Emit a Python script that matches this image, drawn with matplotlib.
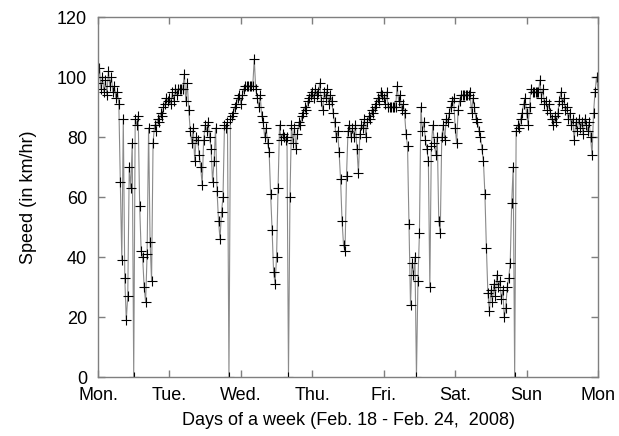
import numpy as np
import matplotlib
matplotlib.use("Agg")
import matplotlib.pyplot as plt

plt.rcParams['font.family'] = ['Liberation Sans', 'DejaVu Sans']

day_labels = ['Mon.', 'Tue.', 'Wed.', 'Thu.', 'Fri.', 'Sat.', 'Sun', 'Mon']

# speed readings (km/hr), 48 per day (every 30 min)
mon = [98, 103, 96, 100, 95, 99, 94, 102, 97, 100, 95, 97, 93, 95, 91, 65,
       39, 86, 33, 19, 27, 70, 63, 78, 0, 86, 84, 87, 57, 42, 40, 30,
       25, 41, 83, 45, 32, 78, 84, 82, 86, 85, 88, 87, 90, 91, 93, 92]
tue = [93, 91, 95, 92, 96, 94, 96, 96, 96, 96, 101, 92, 98, 89, 82, 78,
       83, 72, 80, 79, 74, 70, 64, 79, 84, 82, 85, 80, 76, 65, 72, 83,
       62, 52, 46, 55, 60, 84, 83, 85, 0, 86, 87, 88, 90, 91, 93, 94]
wed = [91, 94, 96, 97, 97, 97, 97, 97, 97, 106, 96, 93, 90, 94, 87, 85,
       80, 83, 78, 75, 61, 49, 35, 31, 40, 63, 84, 79, 81, 80, 79, 80,
       0, 60, 84, 78, 83, 76, 81, 85, 84, 87, 88, 90, 89, 92, 93, 94]
thu = [95, 93, 96, 94, 95, 98, 92, 89, 95, 93, 96, 91, 94, 92, 88, 85,
       80, 82, 75, 66, 52, 44, 42, 67, 82, 84, 80, 83, 80, 84, 76, 68,
       81, 84, 83, 86, 80, 85, 87, 86, 89, 88, 90, 91, 93, 92, 95, 94]
fri = [93, 91, 95, 90, 90, 90, 90, 90, 90, 97, 92, 94, 89, 91, 88, 81,
       77, 51, 24, 38, 34, 40, 0, 32, 48, 90, 82, 85, 79, 76, 72, 30,
       77, 84, 78, 74, 80, 52, 48, 80, 84, 79, 86, 85, 88, 90, 92, 93]
sat = [83, 78, 89, 92, 94, 94, 94, 94, 94, 94, 95, 88, 93, 90, 86, 85,
       82, 80, 76, 72, 61, 43, 28, 22, 29, 25, 31, 27, 34, 30, 32, 26,
       29, 20, 23, 30, 33, 38, 58, 70, 0, 82, 84, 83, 86, 88, 91, 93]
sun = [88, 84, 90, 96, 95, 95, 95, 95, 95, 99, 93, 96, 91, 92, 89, 91,
       88, 86, 84, 87, 85, 88, 92, 95, 91, 93, 89, 90, 86, 88, 84, 86,
       79, 85, 82, 86, 83, 85, 81, 86, 84, 82, 85, 80, 74, 88, 95, 100, 96]

speed = np.array(mon + tue + wed + thu + fri + sat + sun, dtype=float)
t = np.arange(len(speed)) / 48.0

fig = plt.figure(figsize=(6.19, 4.36), dpi=100)
ax = fig.add_axes([98/619, 1 - 377/436, 500/619, 360/436])

ax.plot(t, speed, color='#8a8a8a', lw=0.8, zorder=1)
ax.plot(t, speed, ls='none', marker='+', ms=7.5, mew=0.8, color='black', zorder=2)

ax.set_xlim(0, 7)
ax.set_ylim(0, 120)
ax.set_xticks(range(8))
ax.set_xticklabels(day_labels)
ax.set_yticks(range(0, 121, 20))

for s in ax.spines.values():
    s.set_color('#7f7f7f')
    s.set_linewidth(1.0)
ax.tick_params(direction='in', length=5, width=1, color='#7f7f7f',
               top=True, right=True, labelsize=13, labelcolor='black')
ax.tick_params(axis='x', pad=7)
ax.tick_params(axis='y', pad=8)

ax.set_xlabel('Days of a week (Feb. 18 - Feb. 24,  2008)', fontsize=13, labelpad=6)
ax.set_ylabel('Speed (in km/hr)', fontsize=13, labelpad=14)

fig.savefig('out.png', dpi=100)
